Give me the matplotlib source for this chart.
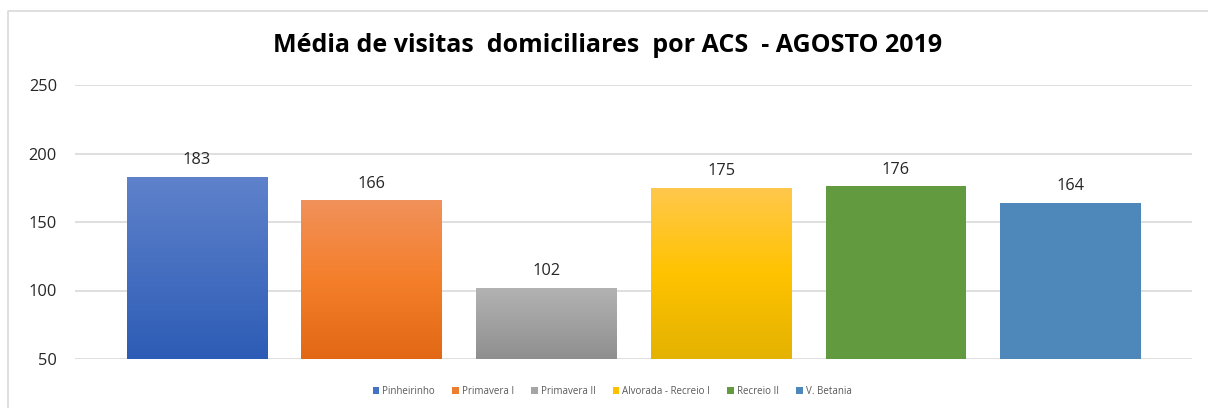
import matplotlib
matplotlib.use("Agg")
import matplotlib.pyplot as plt
import numpy as np
from matplotlib.colors import LinearSegmentedColormap
from matplotlib.lines import Line2D
from matplotlib.patches import Patch

categories = ["Pinheirinho", "Primavera I", "Primavera II", "Alvorada - Recreio I", "Recreio II", "V. Betania"]
values = [183, 166, 102, 175, 176, 164]
title = "Média de visitas  domiciliares  por ACS  - AGOSTO 2019"
yticks = [50, 100, 150, 200, 250]

# gradient colours (top -> bottom); None means solid
grad_top = ["#5f82cb", "#f1915a", "#b3b3b3", "#ffc84d", None, None]
grad_mid = [None, "#f47f2a", None, "#ffc300", None, None]
grad_bot = ["#2d5cb6", "#e26815", "#8f8f8f", "#e4b200", None, None]
solid = ["#4472c4", "#ed7d31", "#a5a5a5", "#ffc000", "#629b3f", "#4e88bb"]

plt.rcParams['font.family'] = ['Open Sans', 'DejaVu Sans']

fig = plt.figure(figsize=(12.08, 4.08), dpi=100)
ax = fig.add_axes([75/1208, 1-359/408, (1192-75)/1208, (359-85)/408])

x = np.arange(len(categories))
bars = ax.bar(x, [v - 50 for v in values], bottom=50, width=0.805, color=solid, zorder=2)

for i, b in enumerate(bars):
    if grad_top[i] is None:
        continue
    cols = [grad_top[i]] + ([grad_mid[i]] if grad_mid[i] else []) + [grad_bot[i]]
    cmap = LinearSegmentedColormap.from_list(f"g{i}", cols[::-1])
    gx, gy = b.get_x(), b.get_y()
    w, h = b.get_width(), b.get_height()
    grad = np.linspace(0, 1, 256).reshape(-1, 1)
    im = ax.imshow(grad, cmap=cmap, origin="lower", aspect="auto",
                   extent=(gx, gx + w, gy, gy + h), zorder=3)
    im.set_clip_path(b)
    b.set_facecolor("none")

for xi, v in zip(x, values):
    ax.annotate(str(v), (xi, v), xytext=(0, 9), textcoords="offset points",
                ha="center", va="baseline", fontsize=11.8, color="#262626", zorder=5)

ax.set_xlim(-0.698, 5.695)
ax.set_ylim(50, 250)
ax.set_yticks(yticks)
ax.set_xticks([])
ax.tick_params(axis='y', length=0, pad=13, labelsize=11.8, labelcolor="#262626")
ax.grid(axis='y', color="#d9d9d9", linewidth=1.2, zorder=0)
for s in ax.spines.values():
    s.set_visible(False)
ax.set_facecolor("none")

fig.text(608/1208, 1-45/408, title, ha="center", va="center", fontsize=18,
         fontweight="bold", color="#000000")

handles = [Patch(facecolor=c, edgecolor="none") for c in solid]
fig.legend(handles, categories, loc="center", bbox_to_anchor=(612/1208, 1-391/408),
           ncol=6, frameon=False, fontsize=7, handlelength=0.7, handleheight=0.7,
           handletextpad=0.3, columnspacing=1.75, labelcolor="#595959")

fig.add_artist(Line2D([8/1208, 8/1208, 1], [0, 1-11/408, 1-11/408],
                      transform=fig.transFigure, color="#d9d9d9", linewidth=1.2))

fig.savefig("out.png", dpi=100)
